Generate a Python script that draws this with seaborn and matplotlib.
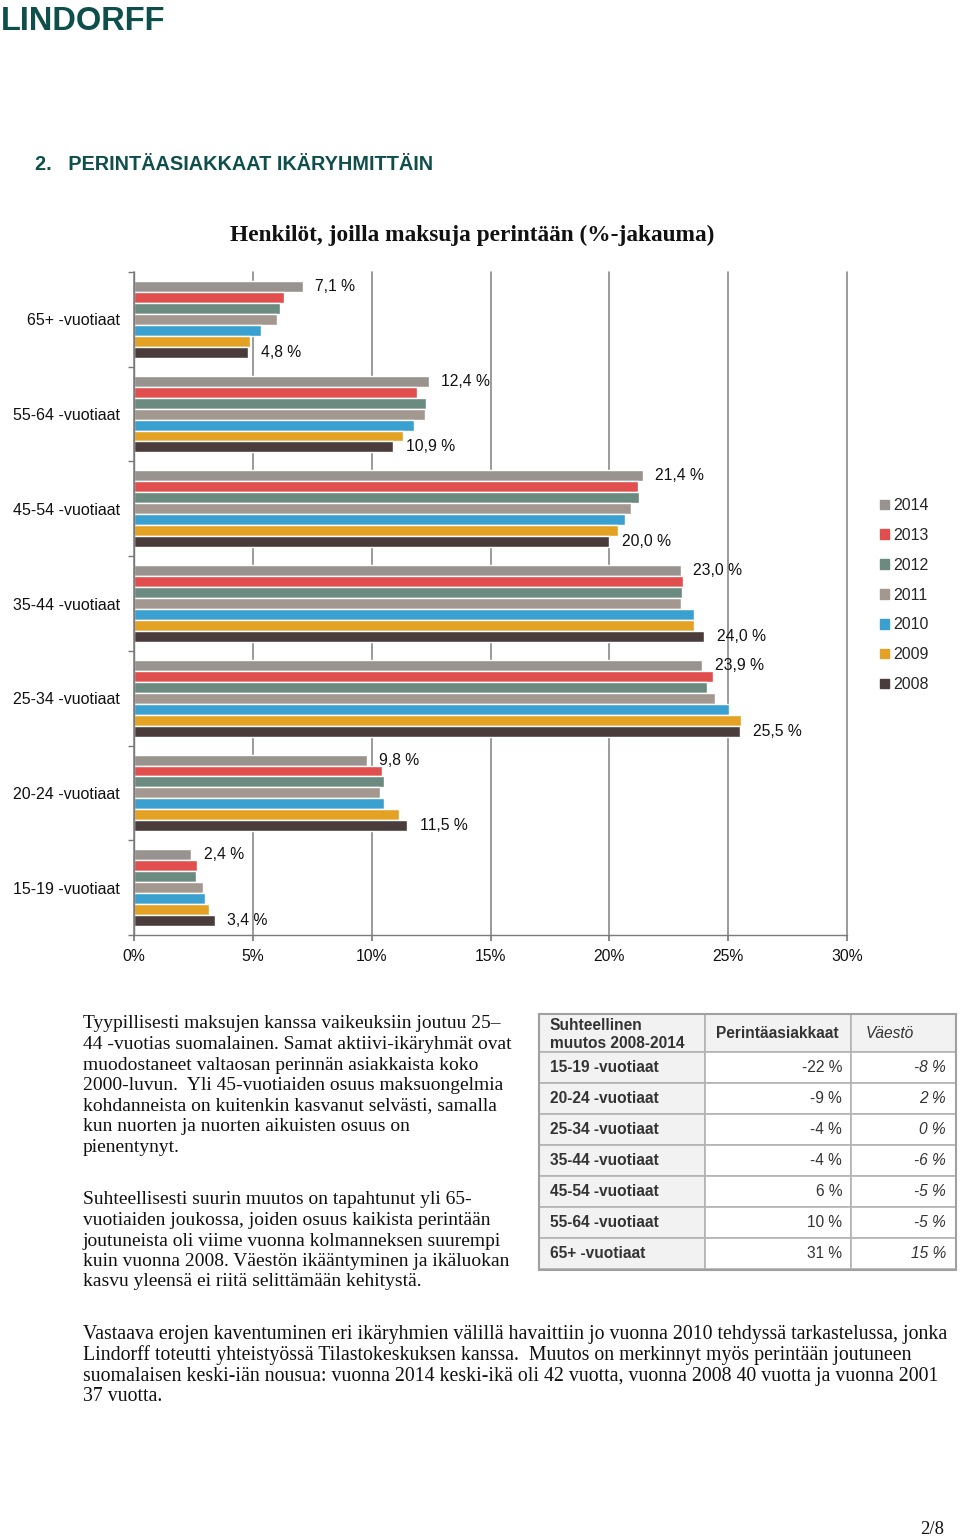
import matplotlib
matplotlib.use("Agg")
import matplotlib.pyplot as plt
import numpy as np
import pandas as pd
import seaborn as sns
from matplotlib.patches import Patch, Rectangle
from matplotlib.ticker import PercentFormatter

# Ikäryhmät ylhäältä alas, vuodet ryhmän sisällä ylhäältä alas
groups = ["65+ -vuotiaat", "55-64 -vuotiaat", "45-54 -vuotiaat", "35-44 -vuotiaat",
          "25-34 -vuotiaat", "20-24 -vuotiaat", "15-19 -vuotiaat"]
years = ["2014", "2013", "2012", "2011", "2010", "2009", "2008"]

v2014 = [7.1, 12.4, 21.4, 23.0, 23.9, 9.8, 2.4]
v2013 = [6.3, 11.9, 21.2, 23.1, 24.35, 10.45, 2.65]
v2012 = [6.15, 12.3, 21.25, 23.05, 24.1, 10.5, 2.6]
v2011 = [6.0, 12.25, 20.9, 23.0, 24.45, 10.35, 2.9]
v2010 = [5.35, 11.8, 20.65, 23.55, 25.05, 10.5, 3.0]
v2009 = [4.9, 11.3, 20.35, 23.55, 25.55, 11.15, 3.15]
v2008 = [4.8, 10.9, 20.0, 24.0, 25.5, 11.5, 3.4]
values = [v2014, v2013, v2012, v2011, v2010, v2009, v2008]

colors = ["#99938f", "#e04e4e", "#6b8b80", "#a29890", "#3aa0cf", "#e3a224", "#4b3c3c"]

# Taulukko: suhteellinen muutos 2008-2014
table_rows = ["15-19 -vuotiaat", "20-24 -vuotiaat", "25-34 -vuotiaat", "35-44 -vuotiaat",
              "45-54 -vuotiaat", "55-64 -vuotiaat", "65+ -vuotiaat"]
change_clients = [-22, -9, -4, -4, 6, 10, 31]
change_population = [-8, 2, 0, -6, -5, -5, 15]

para1 = ["Tyypillisesti maksujen kanssa vaikeuksiin joutuu 25–",
         "44 -vuotias suomalainen. Samat aktiivi-ikäryhmät ovat",
         "muodostaneet valtaosan perinnän asiakkaista koko",
         "2000-luvun.  Yli 45-vuotiaiden osuus maksuongelmia",
         "kohdanneista on kuitenkin kasvanut selvästi, samalla",
         "kun nuorten ja nuorten aikuisten osuus on",
         "pienentynyt."]
para2 = ["Suhteellisesti suurin muutos on tapahtunut yli 65-",
         "vuotiaiden joukossa, joiden osuus kaikista perintään",
         "joutuneista oli viime vuonna kolmanneksen suurempi",
         "kuin vuonna 2008. Väestön ikääntyminen ja ikäluokan",
         "kasvu yleensä ei riitä selittämään kehitystä."]
para3 = ["Vastaava erojen kaventuminen eri ikäryhmien välillä havaittiin jo vuonna 2010 tehdyssä tarkastelussa, jonka",
         "Lindorff toteutti yhteistyössä Tilastokeskuksen kanssa.  Muutos on merkinnyt myös perintään joutuneen",
         "suomalaisen keski-iän nousua: vuonna 2014 keski-ikä oli 42 vuotta, vuonna 2008 40 vuotta ja vuonna 2001",
         "37 vuotta."]

rows = []
for y, vals in zip(years, values):
    for g, v in zip(groups, vals):
        rows.append({"ikaryhma": g, "vuosi": y, "osuus": v})
df = pd.DataFrame(rows)

sns.set_theme(style="white")
plt.rcParams['font.family'] = ['Liberation Sans', 'DejaVu Sans']

W, H = 960, 1540
fig = plt.figure(figsize=(9.6, 15.4), dpi=100)


def fx(px):
    return px / W


def fy(py):
    return 1 - py / H


teal = "#0e4f4c"
fig.text(fx(1), fy(21), "LINDORFF", fontsize=23.5, fontweight="bold", color=teal, va="center")
fig.text(fx(35), fy(164), "2.   PERINTÄASIAKKAAT IKÄRYHMITTÄIN", fontsize=14.3, fontweight="bold",
         color=teal, va="center")
fig.text(fx(472), fy(235), "Henkilöt, joilla maksuja perintään (%-jakauma)", fontsize=16.8,
         fontweight="bold", family="Liberation Serif", color="#111111", ha="center", va="center")

# Pylväskaavio
ax = fig.add_axes([fx(134), fy(935), (847 - 134) / W, (935 - 272) / H])
sns.barplot(data=df, x="osuus", y="ikaryhma", hue="vuosi", order=groups, hue_order=years,
            palette=colors, saturation=1, width=0.81, gap=0, errorbar=None, legend=False,
            orient="h", ax=ax)

for i in (0, len(years) - 1):
    labels = [f"{v:.1f}".replace(".", ",") + " %" for v in values[i]]
    ax.bar_label(ax.containers[i], labels=labels, padding=9, fontsize=11.3, color="#111111")

ax.set_xlim(0, 30)
ax.set_ylim(6.5, -0.5)
ax.set_xticks(range(0, 31, 5))
ax.xaxis.set_major_formatter(PercentFormatter(100, decimals=0))
ax.set_yticks(np.arange(-0.5, 7, 1), minor=True)
ax.grid(axis="x", color="#8a8a8a", lw=1.2)
for gl in ax.get_xgridlines():
    gl.set_clip_on(False)
ax.set_axisbelow(True)
for s in ("top", "right"):
    ax.spines[s].set_visible(False)
for s in ("left", "bottom"):
    ax.spines[s].set_color("#7a7a7a")
    ax.spines[s].set_linewidth(1.0)
ax.tick_params(axis="y", which="major", length=0, pad=10, labelsize=11.5, labelcolor="#111111")
ax.tick_params(axis="y", which="minor", left=True, length=4, color="#7a7a7a")
ax.tick_params(axis="x", bottom=True, length=4, color="#7a7a7a", labelsize=11.3, pad=6,
               labelcolor="#111111")
ax.set_xlabel("")
ax.set_ylabel("")

handles = [Patch(color=c) for c in colors]
fig.legend(handles, years, loc="upper left", bbox_to_anchor=(fx(872), fy(490)), frameon=False,
           fontsize=11.5, handlelength=0.55, handleheight=0.55, handletextpad=0.3,
           labelspacing=0.93, borderpad=0)

# Leipäteksti
serif = ["Liberation Serif", "DejaVu Serif"]
for i, line in enumerate(para1):
    fig.text(fx(83), fy(1024 + i * 20.5), line, fontsize=14, family=serif, va="center",
             color="#111111")
for i, line in enumerate(para2):
    fig.text(fx(83), fy(1200 + i * 20.5), line, fontsize=14, family=serif, va="center",
             color="#111111")
for i, line in enumerate(para3):
    fig.text(fx(83), fy(1335 + i * 20.5), line, fontsize=14.3, family=serif, va="center",
             color="#111111")
fig.text(fx(944), fy(1530), "2/8", fontsize=13.5, family=serif, ha="right", va="center",
         color="#111111")

# Taulukko
tx0, ty0, tw, th = 539, 1014, 417, 256
tax = fig.add_axes([fx(tx0), fy(ty0 + th), tw / W, th / H])
tax.set_xlim(0, tw)
tax.set_ylim(th, 0)
tax.axis("off")
col_x = [0, 166, 312, tw]
row_y = [0, 38] + [38 + 31 * (k + 1) for k in range(len(table_rows))]
grid_c = "#b3b3b3"
light = "#f2f2f2"
txt_c = "#333333"
for r in range(len(row_y) - 1):
    for c in range(3):
        fc = light if (r == 0 or c == 0) else "white"
        tax.add_patch(Rectangle((col_x[c], row_y[r]), col_x[c + 1] - col_x[c],
                                row_y[r + 1] - row_y[r], facecolor=fc, edgecolor=grid_c,
                                lw=1.2, clip_on=False))
tax.add_patch(Rectangle((0, 0), tw, th, fill=False, edgecolor="#a0a0a0", lw=1.5, clip_on=False))

tax.text(11, 11, "Suhteellinen", fontsize=11.2, fontweight="bold", color=txt_c, va="center")
tax.text(11, 29, "muutos 2008-2014", fontsize=11.2, fontweight="bold", color=txt_c, va="center")
tax.text(177, 20, "Perintäasiakkaat", fontsize=11.2, fontweight="bold", color=txt_c, va="center")
tax.text(327, 20, "Väestö", fontsize=11.2, style="italic", color=txt_c, va="center")
for k, name in enumerate(table_rows):
    yc = (row_y[k + 1] + row_y[k + 2]) / 2
    tax.text(11, yc, name, fontsize=11.2, fontweight="bold", color=txt_c, va="center")
    tax.text(303, yc, f"{change_clients[k]} %", fontsize=11.2, color=txt_c, va="center", ha="right")
    tax.text(407, yc, f"{change_population[k]} %", fontsize=11.2, style="italic", color=txt_c,
             va="center", ha="right")

fig.savefig("out.png", dpi=100, facecolor="white")
